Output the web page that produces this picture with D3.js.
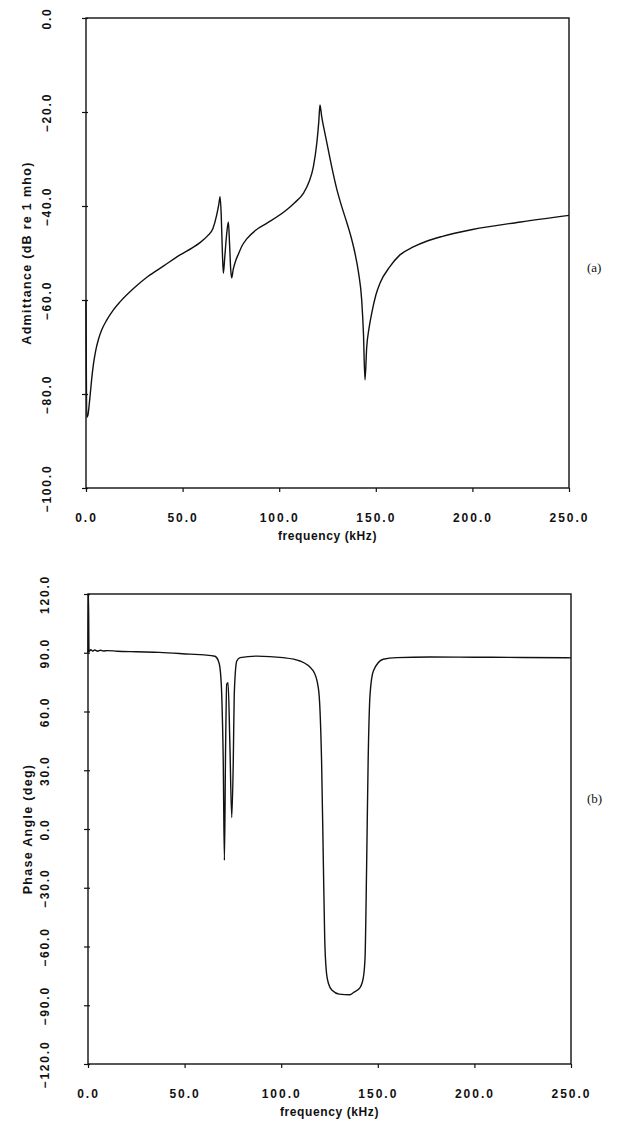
<!DOCTYPE html>
<html>
<head>
<meta charset="utf-8">
<script src="https://cdn.jsdelivr.net/npm/d3@7"></script>
<style>
  body { margin: 0; background: #fff; }
  svg { display: block; }
</style>
</head>
<body>
<svg id="chart" width="628" height="1134"></svg>
<script>
// Tick values for both panels
const freqTicks = [0, 50, 100, 150, 200, 250];
const admittanceTicks = [0, -20, -40, -60, -80, -100];
const phaseTicks = [120, 90, 60, 30, 0, -30, -60, -90, -120];

// (a) admittance magnitude, dB re 1 mho
const admFreq = [0, 0.4, 1.0, 1.6, 2.2, 2.9, 3.8, 5.0, 6.5, 8.1, 10.7, 14, 17.6, 25, 32, 40, 48.7, 55, 59, 63,
  65.7, 67.6, 68.8, 69.4, 70.0, 70.6, 71.1, 71.8, 72.8, 73.7, 74.3, 74.9, 75.4, 76.2, 77.5, 78.9,
  81, 83.2, 88, 93.5, 103.9, 108, 112.5, 115.5, 117.7, 119.5, 120.5, 121.1, 122.0, 123.2, 124.6, 127,
  129.8, 132.5, 134.9, 137.2, 139.2, 141, 142.7, 143.6, 144.4, 145.3, 146.5, 147.9, 150, 152.2,
  157.3, 162.5, 169.4, 176.3, 184.1, 200, 225, 250];
const admDb = [-60, -85, -84.5, -82.5, -80, -77, -73.8, -70.8, -68.3, -66.4, -64.3, -62.2, -60.4, -57.4, -55, -52.8, -50.4, -48.9, -47.8, -46.3,
  -44.8, -42, -39.5, -38, -42, -50, -54.3, -51, -46, -43.4, -48, -53.5, -55.3, -53.5, -51.6, -50.2,
  -48.3, -47.0, -45.1, -43.7, -40.8, -39.3, -37.3, -34.8, -31.6, -26.5, -22, -18.5, -21, -23.6, -26.4, -31.3,
  -36.4, -40.3, -43.4, -46.6, -50, -54, -60, -67, -77, -70, -66, -62.8, -59, -56.4,
  -52.9, -50.4, -48.7, -47.5, -46.5, -45.0, -43.4, -42];

// (b) phase angle, degrees
const phaseFreq = [0, 0.25, 0.5, 1.5, 2.5, 3.5, 5, 6.5, 8, 10, 15, 25, 37, 52.8, 60, 65.7, 67.4, 68.3,
  69.2, 70.0, 70.6, 71.2, 71.8, 72.5, 73.4, 74.4, 75.2, 75.7, 77.0, 78.7, 87.3, 101, 109.7, 116.6,
  119.2, 120.1, 120.9, 121.8, 122.5, 123.3, 124.5, 126.5, 130, 135.6, 137.3, 140.8, 142.5, 143.4,
  144.2, 145, 146, 147.7, 152.8, 159.8, 177, 200, 225, 250];
const phaseDeg = [90, 120, 90.5, 91.6, 90.8, 91.4, 90.8, 91.3, 90.9, 91.1, 90.8, 90.5, 90.2, 89.3, 88.9, 88.2, 86, 82.4,
  68.9, 34.7, -16, 40, 73.9, 74.7, 45, 5.8, 34.7, 68.8, 85.8, 87.5, 88.3, 87.5, 85.8, 80.7,
  72.2, 60.3, 34.7, -16, -55, -72, -79, -82.5, -84.3, -84.6, -83.6, -81, -75.9, -65.7,
  -20, 34.7, 68.8, 80.7, 86.7, 87.5, 87.8, 87.7, 87.6, 87.4];

const svg = d3.select("#chart");
const ink = "#111";
const sans = "'Liberation Sans', Arial, Helvetica, sans-serif";
const serif = "'Liberation Serif', 'DejaVu Serif', serif";

function panel(opts) {
  const { box, yDomain, yTicks, fmt, xs, ys, yTitle, xTitle, tag, tagY, yLabelOff, yTitleX } = opts;
  const x = d3.scaleLinear().domain([0, 250]).range([box.left, box.right]);
  const y = d3.scaleLinear().domain(yDomain).range([box.bottom, box.top]);
  const g = svg.append("g");

  // frame
  g.append("rect")
    .attr("x", box.left).attr("y", box.top)
    .attr("width", box.right - box.left).attr("height", box.bottom - box.top)
    .attr("fill", "none").attr("stroke", ink).attr("stroke-width", 1.4);

  // left axis with rotated labels
  const ya = g.append("g").attr("transform", `translate(${box.left},0)`)
    .call(d3.axisLeft(y).tickValues(yTicks).tickSizeInner(4).tickSizeOuter(0).tickFormat(fmt));
  ya.select(".domain").remove();
  ya.selectAll("line").attr("stroke", ink).attr("stroke-width", 1.2).attr("x2", -4).attr("x1", 2);
  ya.selectAll("text")
    .attr("transform", "rotate(-90)")
    .attr("x", 0).attr("y", yLabelOff).attr("dy", 0)
    .attr("text-anchor", "middle")
    .attr("fill", ink)
    .style("font-family", sans).style("font-weight", "bold")
    .style("font-size", "12px").style("letter-spacing", "1.8px");

  // bottom axis
  const xa = g.append("g").attr("transform", `translate(0,${box.bottom})`)
    .call(d3.axisBottom(x).tickValues(freqTicks).tickSizeInner(4).tickSizeOuter(0).tickFormat(d3.format(".1f")));
  xa.select(".domain").remove();
  xa.selectAll("line").attr("stroke", ink).attr("stroke-width", 1.2);
  xa.selectAll("text")
    .attr("y", 34).attr("dy", 0)
    .attr("fill", ink)
    .style("font-family", sans).style("font-weight", "bold")
    .style("font-size", "12px").style("letter-spacing", "2px");

  // axis titles
  g.append("text")
    .attr("transform", `translate(${yTitleX},${(box.top + box.bottom) / 2}) rotate(-90)`)
    .attr("text-anchor", "middle")
    .attr("fill", ink)
    .style("font-family", sans).style("font-weight", "bold")
    .style("font-size", "12.5px").style("letter-spacing", "1.3px")
    .text(yTitle);
  g.append("text")
    .attr("x", (box.left + box.right) / 2).attr("y", box.bottom + 52)
    .attr("text-anchor", "middle")
    .attr("fill", ink)
    .style("font-family", sans).style("font-weight", "bold")
    .style("font-size", "12px").style("letter-spacing", "0.6px")
    .text(xTitle);

  // panel tag
  g.append("text")
    .attr("x", 587).attr("y", tagY)
    .attr("fill", ink)
    .style("font-family", serif).style("font-size", "13px")
    .text(tag);

  // data curve
  const pts = xs.map((f, i) => [f, ys[i]]);
  const line = d3.line().x(d => x(d[0])).y(d => y(d[1])).curve(d3.curveMonotoneX);
  g.append("path")
    .attr("d", line(pts))
    .attr("fill", "none").attr("stroke", ink)
    .attr("stroke-width", 1.4).attr("stroke-linejoin", "round");
}

panel({
  box: { left: 86, right: 569, top: 18, bottom: 488 },
  yDomain: [-100, 0], yTicks: admittanceTicks, fmt: d3.format(".1f"),
  xs: admFreq, ys: admDb,
  yTitle: "Admittance (dB re 1 mho)", xTitle: "frequency (kHz)",
  tag: "(a)", tagY: 272, yLabelOff: -35, yTitleX: 31
});

panel({
  box: { left: 88, right: 571, top: 594, bottom: 1064 },
  yDomain: [-120, 120], yTicks: phaseTicks, fmt: d3.format(".1f"),
  xs: phaseFreq, ys: phaseDeg,
  yTitle: "Phase Angle (deg)", xTitle: "frequency (kHz)",
  tag: "(b)", tagY: 803, yLabelOff: -39, yTitleX: 32
});
</script>
</body>
</html>
